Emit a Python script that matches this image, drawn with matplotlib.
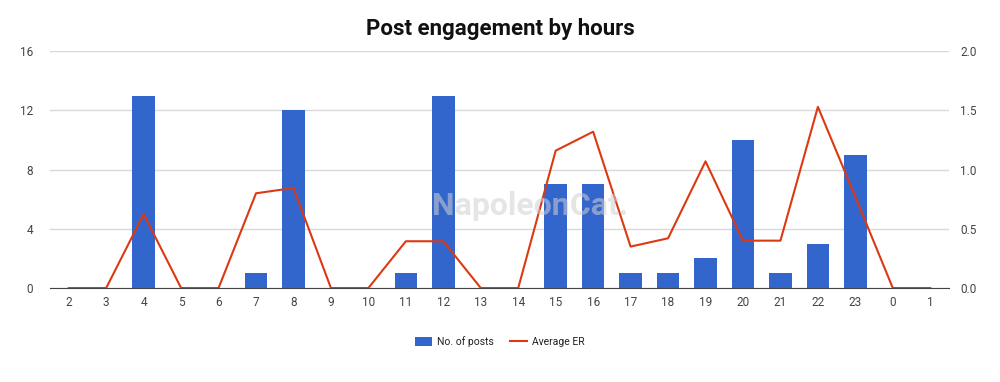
import matplotlib
matplotlib.use("Agg")
import matplotlib.pyplot as plt
import numpy as np

hours = ["2", "3", "4", "5", "6", "7", "8", "9", "10", "11", "12", "13",
         "14", "15", "16", "17", "18", "19", "20", "21", "22", "23", "0", "1"]
posts = [0, 0, 13, 0, 0, 1, 12, 0, 0, 1, 13, 0,
         0, 7, 7, 1, 1, 2, 10, 1, 3, 9, 0, 0]
avg_er = [0, 0, 0.625, 0, 0, 0.80, 0.845, 0, 0, 0.395, 0.395, 0,
          0, 1.16, 1.32, 0.35, 0.42, 1.07, 0.40, 0.40, 1.53, 0.77, 0, 0]
left_ticks = [0, 4, 8, 12, 16]
right_ticks = [0.0, 0.5, 1.0, 1.5, 2.0]

plt.rcParams['font.family'] = ['Roboto', 'DejaVu Sans']

fig = plt.figure(figsize=(10, 3.82), dpi=100)
ax = fig.add_axes([0.050, 0.246, 0.899, 0.620])
x = np.arange(len(hours))

ax.bar(x, posts, width=0.6, color="#3366CC", label="No. of posts", zorder=3)
ax.set_ylim(0, 16)
ax.set_yticks(left_ticks)
ax.set_yticklabels([str(t) for t in left_ticks])
ax.set_xlim(-0.5, len(hours) - 0.5)
ax.set_xticks(x)
ax.set_xticklabels(hours)
ax.grid(axis="y", color="#d9d9d9", linewidth=1, zorder=0)
ax.set_axisbelow(True)
for s in ["top", "right", "left"]:
    ax.spines[s].set_visible(False)
ax.spines["bottom"].set_color("#444444")
ax.spines["bottom"].set_zorder(5)
ax.tick_params(axis="both", length=0, labelsize=8.5, colors="#444444")
ax.tick_params(axis="x", pad=6)
ax.tick_params(axis="y", pad=12)

ax2 = ax.twinx()
ax2.plot(x, avg_er, color="#DC3912", linewidth=1.5, label="Average ER", zorder=4)
ax2.set_ylim(0, 2.0)
ax2.set_yticks(right_ticks)
ax2.set_yticklabels([f"{t:.1f}" for t in right_ticks])
for s in ["top", "right", "left", "bottom"]:
    ax2.spines[s].set_visible(False)
ax2.tick_params(axis="y", length=0, labelsize=8.5, colors="#444444", pad=8)

fig.text(0.53, 0.46, "NapoleonCat.", fontsize=23, color="#d0d0d0", alpha=0.55,
         ha="center", va="center", fontweight="bold", zorder=10)

fig.suptitle("Post engagement by hours", fontsize=16, fontweight="bold",
             y=0.952, color="#111111")

h1, l1 = ax.get_legend_handles_labels()
h2, l2 = ax2.get_legend_handles_labels()
fig.legend(h1 + h2, l1 + l2, loc="center", bbox_to_anchor=(0.5, 0.105), ncol=2,
           frameon=False, fontsize=7.5, handlelength=1.6, handleheight=0.9,
           handletextpad=0.5, columnspacing=1.6, labelcolor="#222222")

fig.savefig("out.png", dpi=100)
